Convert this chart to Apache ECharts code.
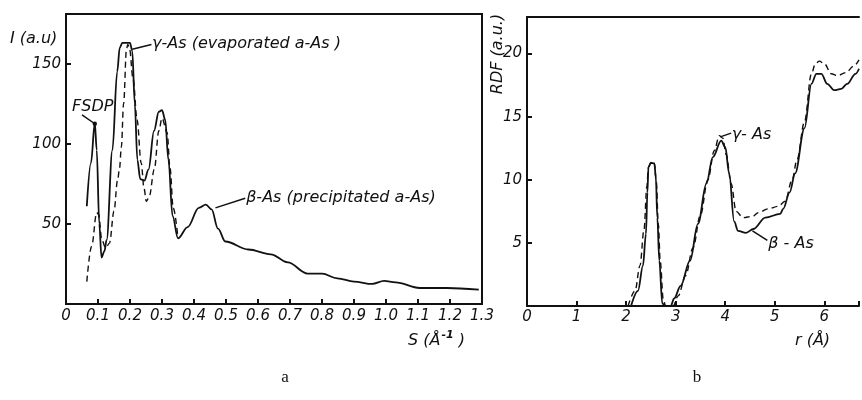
<!DOCTYPE html>
<html>
<head>
<meta charset="utf-8">
<script src="https://cdn.jsdelivr.net/npm/echarts@6/dist/echarts.min.js"></script>
<style>
  html, body { margin: 0; padding: 0; background: #fff; }
  #chart { width: 862px; height: 400px; }
</style>
</head>
<body>
<div id="chart"></div>
<script>
// ---- panel (a): scattered intensity I(S) ----
const betaS = [0.065, 0.078, 0.090, 0.096, 0.104, 0.111, 0.120, 0.127, 0.145, 0.160, 0.168, 0.176, 0.200, 0.207, 0.215, 0.223, 0.232, 0.245, 0.258, 0.275, 0.290, 0.300, 0.310, 0.320, 0.333, 0.350, 0.380, 0.415, 0.437, 0.455, 0.475, 0.498, 0.57, 0.64, 0.693, 0.755, 0.80, 0.848, 0.90, 0.957, 0.994, 1.03, 1.105, 1.19, 1.29];
const betaI = [61, 88, 113, 96, 50, 29, 33, 40, 96, 145, 160, 163, 163, 158, 125, 90, 78, 77, 84, 108, 120, 121, 115, 90, 55, 41, 48, 60, 62, 59, 47, 39, 34, 31, 26, 19, 19, 16, 14, 12.5, 14.4, 13.5, 10, 10, 9];
const gammaS = [0.065, 0.080, 0.096, 0.102, 0.112, 0.124, 0.136, 0.150, 0.161, 0.167, 0.173, 0.180, 0.189, 0.193, 0.198, 0.210, 0.222, 0.235, 0.244, 0.251, 0.260, 0.276, 0.290, 0.300, 0.316, 0.325, 0.335, 0.350];
const gammaI = [14, 36, 57, 56, 40, 35, 38, 58, 77, 84, 98, 125, 159, 162, 160, 140, 115, 88, 72, 64, 67, 84, 108, 116, 107, 85, 60, 41];

// ---- panel (b): radial distribution function RDF(r) ----
const betaR = [2.10, 2.24, 2.34, 2.40, 2.43, 2.45, 2.50, 2.57, 2.60, 2.63, 2.67, 2.73, 2.80, 2.90, 2.97, 3.10, 3.29, 3.45, 3.62, 3.75, 3.92, 4.00, 4.08, 4.18, 4.26, 4.42, 4.57, 4.81, 5.11, 5.17, 5.30, 5.41, 5.60, 5.74, 5.84, 5.94, 6.06, 6.20, 6.34, 6.46, 6.63, 6.70];
const betaRdf = [0, 1.2, 3.2, 5.7, 9, 11.0, 11.35, 11.3, 10.2, 7, 3.6, 0.2, 0, 0, 0.6, 1.6, 3.6, 6.5, 9.7, 11.8, 13.1, 12.6, 10.5, 6.7, 5.95, 5.8, 6.1, 7.0, 7.3, 7.7, 9.0, 10.5, 14.1, 17.6, 18.4, 18.4, 17.6, 17.1, 17.2, 17.6, 18.4, 18.8];
const gammaR = [2.04, 2.18, 2.28, 2.36, 2.42, 2.45, 2.50, 2.57, 2.61, 2.65, 2.69, 2.75, 2.80, 2.95, 3.05, 3.20, 3.35, 3.50, 3.65, 3.78, 3.88, 3.95, 4.02, 4.12, 4.22, 4.36, 4.55, 4.67, 4.87, 5.07, 5.21, 5.35, 5.45, 5.60, 5.74, 5.82, 5.90, 6.00, 6.14, 6.26, 6.44, 6.59, 6.70];
const gammaRdf = [0, 1.2, 3.2, 6, 9.5, 11.0, 11.35, 11.3, 9.8, 6.5, 3.5, 0.5, 0, 0, 0.8, 2.4, 4.6, 7.2, 10.0, 12.3, 13.5, 13.3, 12.0, 9.7, 7.5, 7.0, 7.1, 7.4, 7.7, 7.9, 8.3, 10.0, 11.6, 14.6, 18.4, 19.2, 19.4, 19.2, 18.4, 18.25, 18.5, 19.0, 19.5];

// annotation texts and their anchor points (data units of each panel)
const notes = [
  { grid: 0, text: 'FSDP', at: [0.019, 123], from: [0.050, 118], to: [0.090, 112.5], dot: true },
  { grid: 0, text: 'γ-As (evaporated a-As )', at: [0.269, 162.5], from: [0.207, 159], to: [0.267, 162] },
  { grid: 0, text: 'β-As (precipitated a-As)', at: [0.563, 66], from: [0.467, 60], to: [0.560, 66] },
  { grid: 1, text: 'γ- As', at: [4.13, 13.6], from: [3.90, 13.4], to: [4.12, 13.7] },
  { grid: 1, text: 'β - As', at: [4.87, 4.9], from: [4.55, 5.95], to: [4.85, 5.2] }
];

const INK = '#111';
const FONT = 'DejaVu Sans';
const zip = (xs, ys) => xs.map((x, i) => [x, ys[i]]);

const chart = echarts.init(document.getElementById('chart'), null, { renderer: 'canvas' });

const tickLabel = { fontFamily: FONT, fontStyle: 'italic', fontSize: 15, color: INK };
const lineAxis = { lineStyle: { color: INK, width: 2 } };
const tick = { inside: true, length: 5, lineStyle: { color: INK, width: 2 } };

const curve = (name, data, xi, dashed) => ({
  name, type: 'line', xAxisIndex: xi, yAxisIndex: xi, data,
  showSymbol: false, symbol: 'none', smooth: 0.35, smoothMonotone: 'x',
  lineStyle: { color: INK, width: dashed ? 1.4 : 1.8, type: dashed ? [6, 4] : 'solid' },
  silent: true, animation: false
});

chart.setOption({
  animation: false,
  backgroundColor: '#fff',
  grid: [
    { left: 66, top: 14, width: 416, height: 290, show: true, borderColor: INK, borderWidth: 2, backgroundColor: 'transparent' },
    { left: 527, top: 17, width: 339, height: 289 }
  ],
  xAxis: [
    { type: 'value', gridIndex: 0, min: 0, max: 1.3, interval: 0.1,
      axisLine: lineAxis, axisTick: tick, splitLine: { show: false },
      axisLabel: Object.assign({ margin: 5, formatter: v => v === 0 ? '0' : v.toFixed(1) }, tickLabel) },
    { type: 'value', gridIndex: 1, min: 0, max: 6.7, interval: 1,
      axisLine: lineAxis, axisTick: tick, splitLine: { show: false },
      axisLabel: Object.assign({ margin: 4, formatter: v => Number.isInteger(v) ? String(v) : '' }, tickLabel) },
    // top frame line of panel (b)
    { type: 'value', gridIndex: 1, position: 'top', min: 0, max: 6.7,
      axisLine: lineAxis, axisTick: { show: false }, axisLabel: { show: false }, splitLine: { show: false } }
  ],
  yAxis: [
    { type: 'value', gridIndex: 0, min: 0, max: 181, interval: 50,
      axisLine: lineAxis, axisTick: tick, splitLine: { show: false },
      axisLabel: Object.assign({ margin: 5, formatter: v => (v > 0 && v % 50 === 0) ? String(v) : '' }, tickLabel) },
    { type: 'value', gridIndex: 1, min: 0, max: 22.9, interval: 5,
      axisLine: lineAxis, axisTick: tick, splitLine: { show: false },
      axisLabel: Object.assign({ margin: 5, formatter: v => (v > 0 && v % 5 === 0) ? String(v) : '' }, tickLabel) }
  ],
  series: [
    curve('β-As', zip(betaS, betaI), 0, false),
    curve('γ-As', zip(gammaS, gammaI), 0, true),
    curve('β-As', zip(betaR, betaRdf), 1, false),
    curve('γ-As', zip(gammaR, gammaRdf), 1, true)
  ]
});

// axis titles, panel letters and curve annotations
const txt = (x, y, text, extra) => ({
  type: 'text', x, y, silent: true,
  style: Object.assign({ text, fill: INK, font: 'italic 16px "' + FONT + '"',
    textAlign: 'left', align: 'left', textVerticalAlign: 'middle', verticalAlign: 'middle' }, extra || {})
});

const elements = [
  txt(10, 39, 'I (a.u)'),
  txt(408, 339, '{a|S (Å}{b|-1}{a| )}', {
    rich: { a: { font: 'italic 16px "' + FONT + '"', fill: INK, verticalAlign: 'bottom' },
            b: { font: 'italic bold 11px "' + FONT + '"', fill: INK, verticalAlign: 'top', padding: [0, 0, 8, 1] } }
  }),
  txt(795, 341, 'r (Å)'),
  Object.assign(txt(498, 54, 'RDF (a.u.)', { textAlign: 'center', align: 'center' }), { rotation: Math.PI / 2 }),
  txt(285, 378, 'a', { font: '17px "Liberation Serif"', textAlign: 'center', align: 'center' }),
  txt(697, 378, 'b', { font: '17px "Liberation Serif"', textAlign: 'center', align: 'center' })
];

notes.forEach(n => {
  const p = chart.convertToPixel({ gridIndex: n.grid }, n.at);
  const a = chart.convertToPixel({ gridIndex: n.grid }, n.from);
  const b = chart.convertToPixel({ gridIndex: n.grid }, n.to);
  elements.push(txt(p[0], p[1], n.text, { font: 'italic 16px "' + FONT + '"' }));
  elements.push({ type: 'line', silent: true, shape: { x1: a[0], y1: a[1], x2: b[0], y2: b[1] },
    style: { stroke: INK, lineWidth: 1.5 } });
  if (n.dot) {
    elements.push({ type: 'circle', silent: true, shape: { cx: b[0], cy: b[1], r: 2.2 }, style: { fill: INK } });
  }
});

chart.setOption({ graphic: { elements } });
</script>
</body>
</html>
